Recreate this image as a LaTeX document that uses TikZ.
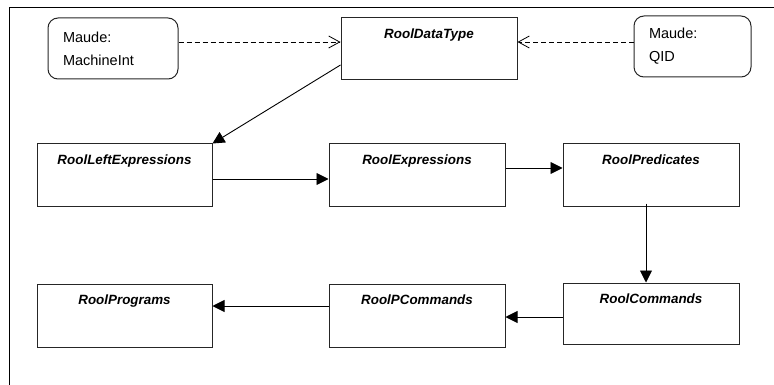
\documentclass[tikz,border=0pt]{standalone}
\usepackage{fontspec}
\setmainfont{Liberation Sans}
\usetikzlibrary{arrows.meta}
\begin{document}
\begin{tikzpicture}[x=1pt,y=-1pt,
  font=\fontsize{14.5}{23}\selectfont,
  cls/.style={draw=black!85, line width=1pt, rectangle, minimum width=176pt, minimum height=62pt, inner sep=0pt, fill=white},
  ttl/.style={anchor=north, inner sep=0pt, yshift=-11pt, font=\fontsize{13.4}{17}\selectfont\bfseries\itshape},
  maude/.style={draw=black!85, line width=1pt, rounded corners=10pt, minimum height=61pt, inner xsep=15pt, inner ysep=0pt, align=left},
  dep/.style={line width=0.8pt, dash pattern=on 5pt off 3pt, -{Straight Barb[length=11pt,width=12pt]}},
  assoc/.style={line width=0.9pt, -{Triangle[length=12pt,width=12pt]}}
]
\useasboundingbox (0,0) rectangle (774,385);
\draw[line width=1pt] (9.5,386) -- (9.5,7.5) -- (775,7.5);

\node[maude, text width=100pt] (mi) at (113,48.5) {Maude:\\MachineInt};
\node[maude, text width=87pt] (qid) at (692.5,46.5) {Maude:\\QID};
\node[cls] (dt) at (429,49) {};
\node[ttl] at (dt.north) {RoolDataType};

\node[cls, minimum width=175pt] (le) at (124.5,175) {};
\node[ttl] at (le.north) {RoolLeftExpressions};
\node[cls] (ex) at (417,175) {};
\node[ttl] at (ex.north) {RoolExpressions};
\node[cls] (pr) at (651,175) {};
\node[ttl] at (pr.north) {RoolPredicates};

\node[cls, minimum width=175pt, minimum height=63pt] (pg) at (124.5,315.5) {};
\node[ttl] at (pg.north) {RoolPrograms};
\node[cls, minimum height=63pt] (pc) at (417,315.5) {};
\node[ttl] at (pc.north) {RoolPCommands};
\node[cls, minimum height=61pt] (cm) at (651,313.5) {};
\node[ttl] at (cm.north) {RoolCommands};

\draw[dep] ([yshift=6.5pt]mi.east) -- ([yshift=7pt]dt.west);
\draw[dep] ([yshift=4.5pt]qid.west) -- ([yshift=7pt]dt.east);
\draw[assoc] ([yshift=-16pt]dt.west) -- (le.north east);
\draw[assoc] ([yshift=-4pt]le.east) -- ([yshift=-4pt]ex.west);
\draw[assoc] ([yshift=7pt]ex.east) -- ([yshift=7pt]pr.west);
\draw[assoc] ([xshift=-5pt,yshift=3pt]pr.south) -- ([xshift=-5pt]cm.north);
\draw[assoc] ([yshift=-3.5pt]cm.west) -- ([yshift=-1.5pt]pc.east);
\draw[assoc] ([yshift=9.5pt]pc.west) -- ([yshift=9.5pt]pg.east);
\end{tikzpicture}
\end{document}
